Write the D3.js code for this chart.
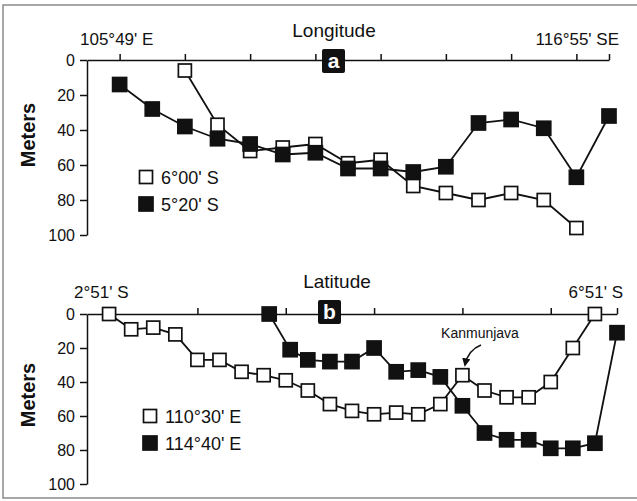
<!DOCTYPE html>
<html>
<head>
<meta charset="utf-8">
<script src="https://cdn.jsdelivr.net/npm/d3@7"></script>
<style>
  body { margin: 0; background: #fff; }
  svg { display: block; }
  text { font-family: "Liberation Sans", Arial, sans-serif; fill: #111; }
</style>
</head>
<body>
<div id="chart"></div>
<script>
// panel a: station index along longitude, depth in meters
const lonStations600 = [2, 3, 4, 5, 6, 7, 8, 9, 10, 11, 12, 13, 14]
const lonDepth600 = [6, 37, 52, 50, 48, 59, 57, 72, 76, 80, 76, 80, 96]
const lonStations520 = [0, 1, 2, 3, 4, 5, 6, 7, 8, 9, 10, 11, 12, 13, 14, 15]
const lonDepth520 = [14, 28, 38, 45, 48, 54, 53, 62, 62, 64, 61, 36, 34, 39, 67, 32]
const lonTicks = [0, 2, 4, 6, 8, 10, 12, 14, 15]

// panel b: station index along latitude
const latStations1103 = [0, 1, 2, 3, 4, 5, 6, 7, 8, 9, 10, 11, 12, 13, 14, 15, 16, 17, 18, 19, 20, 21, 22]
const latDepth1103 = [0, 9, 8, 12, 27, 27, 34, 36, 39, 45, 53, 57, 59, 58, 59, 53, 36, 45, 49, 49, 40, 20, 0]
const latStations1144 = [7.25, 8.2, 9, 10, 11, 12, 13, 14, 15, 16, 17, 18, 19, 20, 21, 22, 23]
const latDepth1144 = [0, 21, 27, 28, 28, 20, 34, 33, 37, 54, 70, 74, 74, 79, 79, 76, 11]
const latTicks = [0, 4, 8, 12, 16, 20, 23]

const depthTicks = [0, 20, 40, 60, 80, 100]

const w = 637
const h = 501

const svg = d3.select('#chart')
  .append('svg')
  .attr('width', w)
  .attr('height', h)

// scan frame
svg.append('path')
  .attr('d', 'M640,5 H3 V498 H640')
  .attr('fill', 'none')
  .attr('stroke', '#8a8a8a')
  .attr('stroke-width', 1.5)

const drawPanel = (p) => {
  const xScale = d3.scaleLinear().domain(p.xDomain).range(p.xRange)
  const yScale = d3.scaleLinear().domain([0, 100]).range(p.yRange)
  const g = svg.append('g')

  const xAxis = d3.axisTop(xScale)
    .tickValues(p.xTicks)
    .tickSize(6)
    .tickSizeOuter(0)
    .tickFormat('')
  const yAxis = d3.axisLeft(yScale)
    .tickValues(depthTicks)
    .tickSize(7)
    .tickSizeOuter(0)
    .tickPadding(5)

  g.append('g')
    .attr('transform', 'translate(0,' + p.yRange[0] + ')')
    .call(xAxis)
  g.append('g')
    .attr('transform', 'translate(' + p.xRange[0] + ',0)')
    .call(yAxis)
  g.selectAll('.domain, .tick line')
    .attr('stroke', '#111')
    .attr('stroke-width', 1.5)
  g.selectAll('.tick text')
    .style('font-family', '"Liberation Sans", Arial, sans-serif')
    .style('font-size', '16px')
    .attr('fill', '#111')

  // axis title and end labels
  g.append('text')
    .attr('x', p.titleX)
    .attr('y', p.titleY)
    .attr('text-anchor', 'middle')
    .style('font-size', '19px')
    .text(p.title)
  g.append('text')
    .attr('x', p.startLabelX)
    .attr('y', p.labelY)
    .style('font-size', '17px')
    .text(p.startLabel)
  g.append('text')
    .attr('x', p.endLabelX)
    .attr('y', p.labelY)
    .attr('text-anchor', 'end')
    .style('font-size', '17px')
    .text(p.endLabel)

  g.append('text')
    .attr('transform', 'translate(35,' + p.metersY + ') rotate(-90)')
    .attr('text-anchor', 'middle')
    .style('font-size', '20px')
    .style('font-weight', 'bold')
    .text('Meters')

  // panel letter box
  g.append('rect')
    .attr('x', p.boxX)
    .attr('y', p.boxY)
    .attr('width', 23)
    .attr('height', 24)
    .attr('rx', 2)
    .attr('fill', '#111')
  g.append('text')
    .attr('x', p.boxX + 11.5)
    .attr('y', p.boxY + 19)
    .attr('text-anchor', 'middle')
    .style('font-size', '21px')
    .style('font-weight', 'bold')
    .style('fill', '#fff')
    .text(p.letter)

  const line = d3.line()
    .x(d => xScale(d[0]))
    .y(d => yScale(d[1]))

  p.series.forEach(s => {
    const pts = s.x.map((v, i) => [v, s.y[i]])
    g.append('path')
      .datum(pts)
      .attr('d', line)
      .attr('fill', 'none')
      .attr('stroke', '#111')
      .attr('stroke-width', 1.8)
  })
  p.series.forEach(s => {
    const pts = s.x.map((v, i) => [v, s.y[i]])
    const size = s.filled ? 14 : 13
    g.selectAll(null)
      .data(pts)
      .enter()
      .append('rect')
      .attr('x', d => xScale(d[0]) - size / 2)
      .attr('y', d => yScale(d[1]) - size / 2)
      .attr('width', size)
      .attr('height', size)
      .attr('fill', s.filled ? '#111' : '#fff')
      .attr('stroke', '#111')
      .attr('stroke-width', 1.7)
  })

  // legend
  p.series.forEach((s, i) => {
    const ly = p.legendY + i * 27
    const size = s.filled ? 14 : 13
    g.append('rect')
      .attr('x', p.legendX - size / 2)
      .attr('y', ly - size / 2)
      .attr('width', size)
      .attr('height', size)
      .attr('fill', s.filled ? '#111' : '#fff')
      .attr('stroke', '#111')
      .attr('stroke-width', 1.7)
    g.append('text')
      .attr('x', p.legendX + 15)
      .attr('y', ly + 7)
      .style('font-size', '18px')
      .text(s.name)
  })
  return { xScale, yScale, g }
}

drawPanel({
  xDomain: [-1, 15], xRange: [87, 609], yRange: [60, 235], xTicks: lonTicks,
  title: 'Longitude', titleX: 334, titleY: 37,
  startLabel: '105°49\' E', startLabelX: 80, endLabel: '116°55\' SE', endLabelX: 619, labelY: 45,
  metersY: 135, boxX: 322, boxY: 49, letter: 'a',
  legendX: 146, legendY: 177,
  series: [
    { name: '6°00\' S', x: lonStations600, y: lonDepth600, filled: false },
    { name: '5°20\' S', x: lonStations520, y: lonDepth520, filled: true }
  ]
})

drawPanel({
  xDomain: [-1, 23], xRange: [87, 617], yRange: [314, 484], xTicks: latTicks,
  title: 'Latitude', titleX: 337, titleY: 288,
  startLabel: '2°51\' S', startLabelX: 74, endLabel: '6°51\' S', endLabelX: 623, labelY: 298,
  metersY: 395, boxX: 318, boxY: 300, letter: 'b',
  legendX: 150, legendY: 416,
  series: [
    { name: '110°30\' E', x: latStations1103, y: latDepth1103, filled: false },
    { name: '114°40\' E', x: latStations1144, y: latDepth1144, filled: true }
  ]
})

// Kanmunjava annotation
svg.append('defs').append('marker')
  .attr('id', 'arrow')
  .attr('viewBox', '0 0 10 10')
  .attr('refX', 8)
  .attr('refY', 5)
  .attr('markerWidth', 6)
  .attr('markerHeight', 6)
  .attr('orient', 'auto')
  .append('path')
  .attr('d', 'M0,0 L10,5 L0,10 Z')
  .attr('fill', '#111')

svg.append('text')
  .attr('x', 480)
  .attr('y', 338)
  .attr('text-anchor', 'middle')
  .style('font-size', '14px')
  .text('Kanmunjava')

svg.append('path')
  .attr('d', 'M481,345 Q468,350 465,365')
  .attr('fill', 'none')
  .attr('stroke', '#111')
  .attr('stroke-width', 1.4)
  .attr('marker-end', 'url(#arrow)')
</script>
</body>
</html>
